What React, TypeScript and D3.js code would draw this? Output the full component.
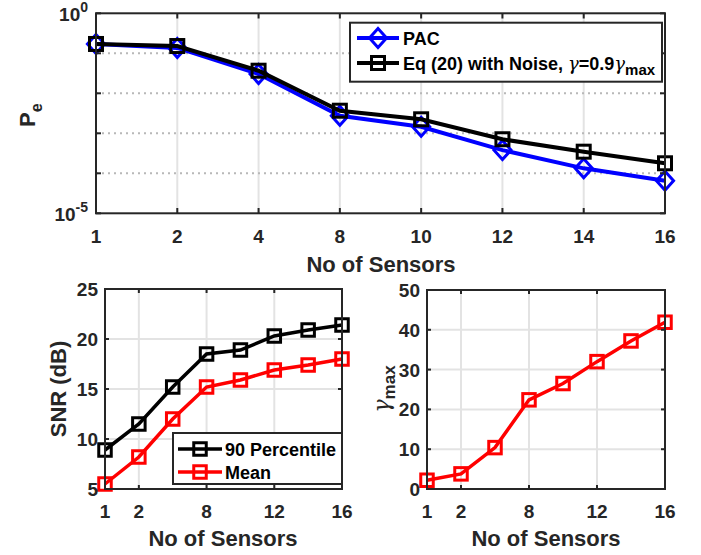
import React from 'react';
import * as d3 from 'd3';

const sensors = ['1', '2', '4', '8', '10', '12', '14', '16'];
const pacPe = [0.171, 0.136, 0.0304, 0.00275, 0.00146, 3.8e-4, 1.33e-4, 6.5e-5];
const eqPe = [0.171, 0.152, 0.0367, 0.00367, 0.00224, 7.1e-4, 3.47e-4, 1.78e-4];
const snr90 = [8.9, 11.5, 15.2, 18.5, 18.9, 20.3, 20.9, 21.4];
const snrMean = [5.5, 8.2, 12.0, 15.2, 15.9, 16.9, 17.4, 18.0];
const gammaMax = [2.2, 3.8, 10.4, 22.4, 26.5, 32.0, 37.2, 41.9];

const bottomTicks = ['1', '2', '8', '12', '16'];
const peDecades = [0, -1, -2, -3, -4, -5];
const snrTicks = [5, 10, 15, 20, 25];
const gammaTicks = [0, 10, 20, 30, 40, 50];

const FONT = '"Liberation Sans", Arial, Helvetica, sans-serif';
const INK = '#262626';
const GRID = '#e3e3e3';
const TICK = 19;
const LABEL = 22;
const LEG = 18;

const Square = ({ x, y, s, color, sw }: any) => (
  <rect x={x - s / 2} y={y - s / 2} width={s} height={s} fill="none" stroke={color} strokeWidth={sw} />
);

const Diamond = ({ x, y, r, color, sw }: any) => (
  <path d={`M${x},${y - r}L${x + r * 0.9},${y}L${x},${y + r}L${x - r * 0.9},${y}Z`} fill="none" stroke={color} strokeWidth={sw} />
);

const TopChart = () => {
  const x = d3.scalePoint<string>().domain(sensors).range([96, 665]);
  const y = d3.scaleLog().domain([1e-5, 1]).range([213.3, 13.3]);
  const line = (vals: number[]) =>
    d3.line<number>().x((_, i) => x(sensors[i])!).y(d => y(d))(vals)!;

  return (
    <g>
      {sensors.map(s => (
        <line key={s} x1={x(s)} x2={x(s)} y1={13.3} y2={213.3} stroke={GRID} strokeWidth={2} />
      ))}
      {peDecades.slice(1, -1).map(p => (
        <line key={p} x1={96} x2={665} y1={y(10 ** p)} y2={y(10 ** p)} stroke="#b8b8b8" strokeWidth={2} strokeDasharray="2,4" />
      ))}
      <path d={line(pacPe)} fill="none" stroke="#0000ff" strokeWidth={4} />
      {pacPe.map((v, i) => (
        <Diamond key={i} x={x(sensors[i])} y={y(v)} r={9.5} color="#0000ff" sw={3} />
      ))}
      <path d={line(eqPe)} fill="none" stroke="#000" strokeWidth={4} />
      {eqPe.map((v, i) => (
        <Square key={i} x={x(sensors[i])} y={y(v)} s={13} color="#000" sw={3} />
      ))}
      <rect x={96} y={13.3} width={569} height={200} fill="none" stroke={INK} strokeWidth={2} />
      {peDecades.map(p => (
        <g key={p}>
          <line x1={96} x2={101} y1={y(10 ** p)} y2={y(10 ** p)} stroke={INK} strokeWidth={2} />
          <line x1={665} x2={660} y1={y(10 ** p)} y2={y(10 ** p)} stroke={INK} strokeWidth={2} />
        </g>
      ))}
      {sensors.map(s => (
        <g key={s}>
          <line x1={x(s)} x2={x(s)} y1={213.3} y2={208} stroke={INK} strokeWidth={2} />
          <line x1={x(s)} x2={x(s)} y1={13.3} y2={18.5} stroke={INK} strokeWidth={2} />
          <text x={x(s)} y={243} textAnchor="middle" fontSize={TICK} fontWeight="bold" fill={INK}>{s}</text>
        </g>
      ))}
      {[0, -5].map(p => (
        <text key={p} x={88} y={y(10 ** p) + 8} textAnchor="end" fontSize={TICK} fontWeight="bold" fill={INK}>
          10<tspan dy={-9} fontSize={14}>{p}</tspan>
        </text>
      ))}
      <text x={381} y={272} textAnchor="middle" fontSize={LABEL} fontWeight="bold" fill={INK}>No of Sensors</text>
      <text transform="translate(35,127) rotate(-90)" fontSize={LABEL} fontWeight="bold" fill={INK}>
        P<tspan dy={7} fontSize={16}>e</tspan>
      </text>
      {/* legend */}
      <rect x={350} y={22.7} width={312} height={59} fill="#fff" stroke={INK} strokeWidth={2} />
      <line x1={357} x2={399} y1={38} y2={38} stroke="#0000ff" strokeWidth={4} />
      <Diamond x={378} y={38} r={9.5} color="#0000ff" sw={3} />
      <text x={403} y={44.5} fontSize={LEG} fontWeight="bold" fill="#000">PAC</text>
      <line x1={357} x2={399} y1={63} y2={63} stroke="#000" strokeWidth={4} />
      <Square x={378} y={63} s={13} color="#000" sw={3} />
      <text x={403} y={69.5} fontSize={LEG} fontWeight="bold" fill="#000">
        Eq (20) with Noise, <tspan fontFamily="DejaVu Serif, serif" fontStyle="italic" fontWeight="normal">γ</tspan>=0.9<tspan fontFamily="DejaVu Serif, serif" fontStyle="italic" fontWeight="normal">γ</tspan>
        <tspan dy={5} fontSize={15}>max</tspan>
      </text>
    </g>
  );
};

const SnrChart = () => {
  const x = d3.scalePoint<string>().domain(sensors).range([105, 342]);
  const y = d3.scaleLinear().domain([5, 25]).range([489, 289]);
  const line = (vals: number[]) =>
    d3.line<number>().x((_, i) => x(sensors[i])!).y(d => y(d))(vals)!;
  return (
    <g>
      {bottomTicks.map(s => (
        <line key={s} x1={x(s)} x2={x(s)} y1={289} y2={489} stroke={GRID} strokeWidth={2} />
      ))}
      {snrTicks.map(t => (
        <line key={t} x1={105} x2={342} y1={y(t)} y2={y(t)} stroke={GRID} strokeWidth={2} />
      ))}
      <path d={line(snr90)} fill="none" stroke="#000" strokeWidth={3.5} />
      {snr90.map((v, i) => (
        <Square key={i} x={x(sensors[i])} y={y(v)} s={12.5} color="#000" sw={3} />
      ))}
      <path d={line(snrMean)} fill="none" stroke="#ff0000" strokeWidth={3.5} />
      {snrMean.map((v, i) => (
        <Square key={i} x={x(sensors[i])} y={y(v)} s={12.5} color="#ff0000" sw={3} />
      ))}
      <rect x={105} y={289} width={237} height={200} fill="none" stroke={INK} strokeWidth={2} />
      {snrTicks.map(t => (
        <g key={t}>
          <line x1={105} x2={109} y1={y(t)} y2={y(t)} stroke={INK} strokeWidth={2} />
          <line x1={342} x2={338} y1={y(t)} y2={y(t)} stroke={INK} strokeWidth={2} />
          <text x={98} y={y(t) + 7} textAnchor="end" fontSize={TICK} fontWeight="bold" fill={INK}>{t}</text>
        </g>
      ))}
      {bottomTicks.map(s => (
        <g key={s}>
          <line x1={x(s)} x2={x(s)} y1={489} y2={485} stroke={INK} strokeWidth={2} />
          <line x1={x(s)} x2={x(s)} y1={289} y2={293} stroke={INK} strokeWidth={2} />
          <text x={x(s)} y={518} textAnchor="middle" fontSize={TICK} fontWeight="bold" fill={INK}>{s}</text>
        </g>
      ))}
      <text x={223} y={546} textAnchor="middle" fontSize={LABEL} fontWeight="bold" fill={INK}>No of Sensors</text>
      <text transform="translate(66,389) rotate(-90)" textAnchor="middle" fontSize={LABEL} fontWeight="bold" fill={INK}>SNR (dB)</text>
      <rect x={173} y={433} width={169} height={51} fill="#fff" stroke={INK} strokeWidth={2} />
      <line x1={178} x2={222} y1={449} y2={449} stroke="#000" strokeWidth={3.5} />
      <Square x={200} y={449} s={12.5} color="#000" sw={3} />
      <text x={225} y={455.5} fontSize={LEG} fontWeight="bold" fill="#000">90 Percentile</text>
      <line x1={178} x2={222} y1={472} y2={472} stroke="#ff0000" strokeWidth={3.5} />
      <Square x={200} y={472} s={12.5} color="#ff0000" sw={3} />
      <text x={225} y={478.5} fontSize={LEG} fontWeight="bold" fill="#000">Mean</text>
    </g>
  );
};

const GammaChart = () => {
  const x = d3.scalePoint<string>().domain(sensors).range([427, 665]);
  const y = d3.scaleLinear().domain([0, 50]).range([489, 290]);
  const path = d3.line<number>().x((_, i) => x(sensors[i])!).y(d => y(d))(gammaMax)!;
  return (
    <g>
      {bottomTicks.map(s => (
        <line key={s} x1={x(s)} x2={x(s)} y1={290} y2={489} stroke={GRID} strokeWidth={2} />
      ))}
      {gammaTicks.map(t => (
        <line key={t} x1={427} x2={665} y1={y(t)} y2={y(t)} stroke={GRID} strokeWidth={2} />
      ))}
      <path d={path} fill="none" stroke="#ff0000" strokeWidth={3.5} />
      {gammaMax.map((v, i) => (
        <Square key={i} x={x(sensors[i])} y={y(v)} s={12.5} color="#ff0000" sw={3} />
      ))}
      <rect x={427} y={290} width={238} height={199} fill="none" stroke={INK} strokeWidth={2} />
      {gammaTicks.map(t => (
        <g key={t}>
          <line x1={427} x2={431} y1={y(t)} y2={y(t)} stroke={INK} strokeWidth={2} />
          <line x1={665} x2={661} y1={y(t)} y2={y(t)} stroke={INK} strokeWidth={2} />
          <text x={420} y={y(t) + 7} textAnchor="end" fontSize={TICK} fontWeight="bold" fill={INK}>{t}</text>
        </g>
      ))}
      {bottomTicks.map(s => (
        <g key={s}>
          <line x1={x(s)} x2={x(s)} y1={489} y2={485} stroke={INK} strokeWidth={2} />
          <line x1={x(s)} x2={x(s)} y1={290} y2={294} stroke={INK} strokeWidth={2} />
          <text x={x(s)} y={518} textAnchor="middle" fontSize={TICK} fontWeight="bold" fill={INK}>{s}</text>
        </g>
      ))}
      <text x={546} y={546} textAnchor="middle" fontSize={LABEL} fontWeight="bold" fill={INK}>No of Sensors</text>
      <text transform="translate(389,389) rotate(-90)" textAnchor="middle" fontSize={LABEL} fontWeight="bold" fill={INK}>
        <tspan fontFamily="DejaVu Serif, serif" fontStyle="italic" fontWeight="normal">γ</tspan>
        <tspan dy={6} fontSize={17}>max</tspan>
      </text>
    </g>
  );
};

export default function App() {
  return (
    <svg
      width={701}
      height={555}
      viewBox="0 0 701 555"
      style={{ position: 'absolute', left: 0, top: 0, background: '#fff', fontFamily: FONT }}
    >
      <rect width={701} height={555} fill="#fff" />
      <TopChart />
      <SnrChart />
      <GammaChart />
    </svg>
  );
}
